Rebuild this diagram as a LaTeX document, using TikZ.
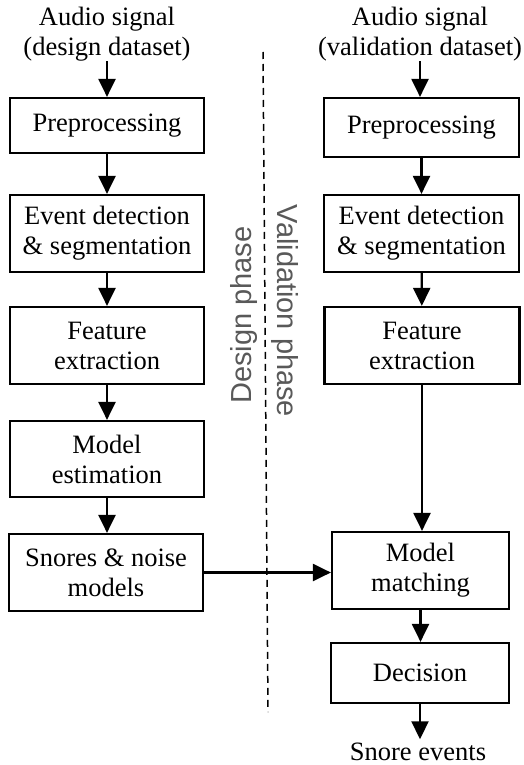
\documentclass[tikz,border=0pt]{standalone}
\usepackage{fontspec}
\setmainfont{Liberation Serif}
\newfontfamily\phasefont{Liberation Sans}
\usetikzlibrary{arrows.meta}
\definecolor{phasegray}{RGB}{89,89,89}
\begin{document}
\begin{tikzpicture}[x=1pt, y=-1pt,
  block/.style={draw, line width=2.2pt, minimum width=194pt, inner sep=0pt,
    align=center, font=\fontsize{26.5}{30}\selectfont},
  txt/.style={inner sep=0pt, align=center, font=\fontsize{26.5}{30}\selectfont},
  flow/.style={line width=2.2pt, -{Triangle[length=18pt,width=17pt]}},
  phase/.style={inner sep=0pt, text=phasegray,
    font=\phasefont\fontsize{29}{34}\selectfont},
  separator/.style={line width=1.5pt, dash pattern=on 7pt off 5pt}]
\useasboundingbox (0,0) rectangle (523,765);

% design column
\node[txt] (ltop) at (107,34) {Audio signal\\(design dataset)};
\node[block, minimum height=55pt] (lpre) at (107,125.5) {Preprocessing};
\node[block, minimum height=77pt] (levt) at (107,233.5) {Event detection\\\& segmentation};
\node[block, minimum height=77pt] (lfeat) at (107,345.5) {Feature\\extraction};
\node[block, minimum height=76pt] (lmod) at (107,459) {Model\\estimation};
\node[block, minimum height=77pt] (lsn) at (106,572.5) {Snores \& noise\\models};

% validation column
\node[txt] (rtop) at (420,34) {Audio signal\\(validation dataset)};
\node[block, minimum width=195pt, minimum height=59pt] (rpre) at (421.5,127.5) {Preprocessing};
\node[block, minimum width=195pt, minimum height=77pt] (revt) at (421.5,233.5) {Event detection\\\& segmentation};
\node[block, minimum width=195pt, minimum height=77pt] (rfeat) at (422,345.5) {Feature\\extraction};
\node[block, minimum width=177pt, minimum height=77pt] (rmm) at (420.5,570.5) {Model\\matching};
\node[block, minimum width=178pt, minimum height=60pt] (rdec) at (420,673) {Decision};
\node[txt, inner sep=3pt, anchor=base] (rout) at (418,760) {Snore events};

% phase separator and labels
\coordinate (sepTop) at (263,52);
\coordinate (sepBot) at (268,712);
\draw[separator] (sepTop) -- (sepBot);
\node[phase, rotate=90, anchor=base] (dphase) at (251,315) {Design phase};
\node[phase, rotate=-90, anchor=base] (vphase) at (277,311) {Validation phase};

% design flow
\draw[flow] (ltop.south) -- (ltop.south |- lpre.north);
\draw[flow] (lpre) -- (levt);
\draw[flow] (levt) -- (lfeat);
\draw[flow] (lfeat) -- (lmod);
\draw[flow] (lmod.south) -- (lmod.south |- lsn.north);

% validation flow
\draw[flow] (rtop.south) -- (rtop.south |- rpre.north);
\draw[flow] (rpre) -- (revt);
\draw[flow] (revt) -- (rfeat);
\draw[flow] (rfeat.south) -- (rfeat.south |- rmm.north);
\draw[flow] (rmm.south) -- (rmm.south |- rdec.north);
\draw[flow] (rdec.south) -- (rdec.south |- rout.north);

% trained models feed the matcher
\draw[flow] (lsn.east) -- (lsn.east -| rmm.west);
\end{tikzpicture}
\end{document}
